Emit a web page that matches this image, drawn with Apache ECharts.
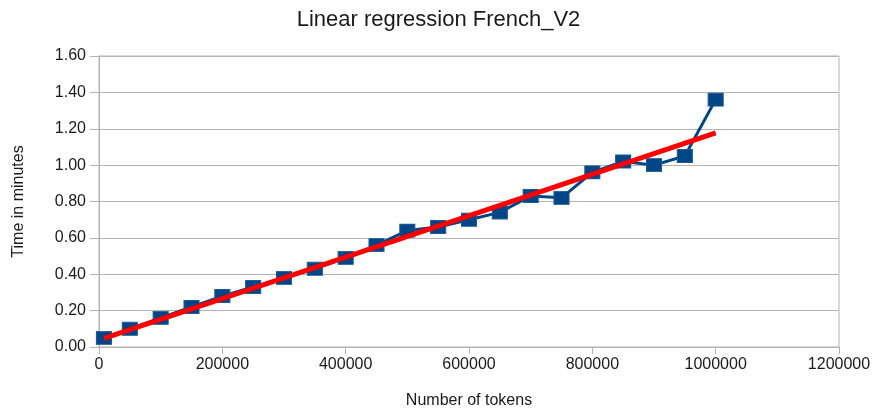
<!DOCTYPE html>
<html>
<head>
<meta charset="utf-8">
<script src="https://cdn.jsdelivr.net/npm/echarts@6/dist/echarts.min.js"></script>
<style>
  html, body { margin: 0; padding: 0; background: #fff; }
  #chart { width: 877px; height: 417px; }
</style>
</head>
<body>
<div id="chart"></div>
<script>
// Measured run times for the French_V2 corpus
const tokens = [8000, 50000, 100000, 150000, 200000, 250000, 300000, 350000, 400000, 450000,
                500000, 550000, 600000, 650000, 700000, 750000, 800000, 850000, 900000, 950000, 1000000];
const minutes = [0.05, 0.10, 0.16, 0.22, 0.28, 0.33, 0.38, 0.43, 0.49, 0.56,
                 0.64, 0.66, 0.70, 0.74, 0.83, 0.82, 0.96, 1.02, 1.00, 1.05, 1.36];
const yTicks = { min: 0, max: 1.6, step: 0.2 };
const xTicks = { min: 0, max: 1200000, step: 200000 };

// Least-squares fit drawn as the trend line across the measured range
function linearFit(xs, ys) {
  const n = xs.length;
  let sx = 0, sy = 0, sxx = 0, sxy = 0;
  for (let i = 0; i < n; i++) {
    sx += xs[i]; sy += ys[i]; sxx += xs[i] * xs[i]; sxy += xs[i] * ys[i];
  }
  const slope = (n * sxy - sx * sy) / (n * sxx - sx * sx);
  const intercept = (sy - slope * sx) / n;
  return { slope, intercept };
}
const fit = linearFit(tokens, minutes);
const xFirst = tokens[0], xLast = tokens[tokens.length - 1];
const fitLine = [
  [xFirst, fit.intercept + fit.slope * xFirst],
  [xLast, fit.intercept + fit.slope * xLast]
];

const font = 'Liberation Sans';
const gridColor = '#b3b3b3';
const textColor = '#1a1a1a';

const chart = echarts.init(document.getElementById('chart'));
chart.setOption({
  animation: false,
  backgroundColor: '#ffffff',
  title: {
    text: 'Linear regression French_V2',
    left: 'center',
    top: 4,
    textStyle: { fontFamily: font, fontSize: 22, fontWeight: 'normal', color: textColor }
  },
  grid: { left: 99, right: 38, top: 56, bottom: 70, show: true, borderColor: gridColor, borderWidth: 1 },
  xAxis: {
    type: 'value',
    min: xTicks.min, max: xTicks.max, interval: xTicks.step,
    name: 'Number of tokens',
    nameLocation: 'middle',
    nameGap: 46,
    nameTextStyle: { fontFamily: font, fontSize: 16, color: textColor },
    axisLine: { show: true, lineStyle: { color: gridColor, width: 1 } },
    axisTick: { show: true, length: 7, lineStyle: { color: gridColor } },
    splitLine: { show: false },
    axisLabel: {
      fontFamily: font, fontSize: 16, color: textColor, margin: 10,
      formatter: v => String(v)
    }
  },
  yAxis: {
    type: 'value',
    min: yTicks.min, max: yTicks.max, interval: yTicks.step,
    name: 'Time in minutes',
    nameLocation: 'middle',
    nameGap: 72,
    nameTextStyle: { fontFamily: font, fontSize: 16, color: textColor },
    axisLine: { show: true, lineStyle: { color: gridColor, width: 1 } },
    axisTick: { show: true, length: 9, lineStyle: { color: gridColor } },
    splitLine: { show: true, lineStyle: { color: gridColor, width: 1 } },
    axisLabel: {
      fontFamily: font, fontSize: 16, color: textColor, margin: 13,
      formatter: v => v.toFixed(2)
    }
  },
  series: [
    {
      name: 'Time',
      type: 'line',
      data: tokens.map((t, i) => [t, minutes[i]]),
      symbol: 'rect',
      symbolSize: [15, 13],
      lineStyle: { color: '#004586', width: 3 },
      itemStyle: { color: '#004586', borderColor: '#1a5a96', borderWidth: 1 },
      z: 2
    },
    {
      name: 'Trend',
      type: 'line',
      data: fitLine,
      symbol: 'none',
      lineStyle: { color: '#ff0000', width: 5 },
      z: 3
    }
  ]
});
</script>
</body>
</html>
